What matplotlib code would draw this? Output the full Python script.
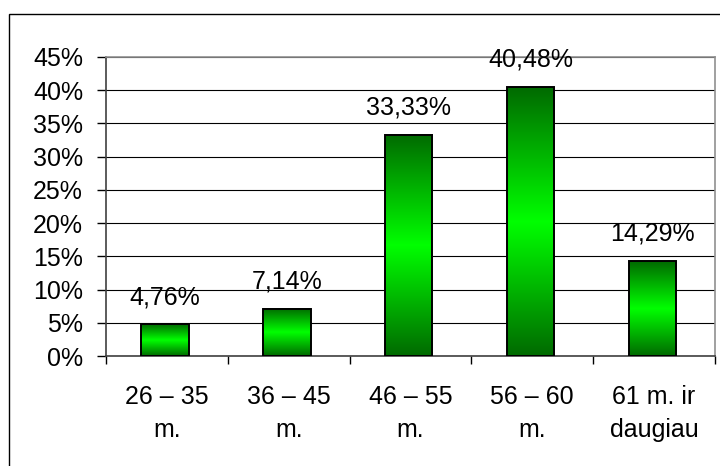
import numpy as np
import matplotlib
matplotlib.use("Agg")
import matplotlib.pyplot as plt
from matplotlib.colors import LinearSegmentedColormap
from matplotlib.patches import Rectangle

plt.rcParams['font.family'] = ['Liberation Sans', 'DejaVu Sans']

# duomenys
categories = ["26 – 35\nm.", "36 – 45\nm.", "46 – 55\nm.", "56 – 60\nm.", "61 m. ir\ndaugiau"]
values = [4.76, 7.14, 33.33, 40.48, 14.29]
yticks = [0, 5, 10, 15, 20, 25, 30, 35, 40, 45]

W, H = 720, 466
fig = plt.figure(figsize=(W / 100, H / 100), dpi=100)
ax = fig.add_axes([106 / W, (H - 356) / H, (715 - 106) / W, (356 - 57) / H])

# isorinis remelis
fig.patches.append(Rectangle((9 / W, -0.2), 1.0, (H - 14) / H + 0.2,
                             transform=fig.transFigure, fill=False,
                             edgecolor='black', linewidth=1.0))

# gradientas: tamsus - sviesus - tamsus
cmap = LinearSegmentedColormap.from_list(
    "g", [(0.0, "#006a00"), (0.5, "#00ff00"), (1.0, "#006a00")])
grad = np.linspace(0, 1, 256).reshape(-1, 1)

x = np.arange(len(values))
xb = x - 0.015
bw = 0.39
bars = ax.bar(xb, values, width=bw, facecolor='none', edgecolor='black',
              linewidth=1.4, zorder=4)
for b in bars:
    x0 = b.get_x()
    ax.imshow(grad, cmap=cmap, aspect='auto', zorder=3,
              extent=[x0, x0 + b.get_width(), 0, b.get_height()],
              interpolation='bilinear')

for xi, v in zip(xb, values):
    ax.annotate(f"{v:.2f}".replace('.', ',') + "%", (xi, v),
                xytext=(0, 14.5), textcoords='offset points',
                ha='center', va='baseline', fontsize=18, zorder=5)

ax.set_xlim(-0.5, len(values) - 0.5)
ax.set_ylim(0, 45)

ax.set_yticks(yticks)
ax.set_yticklabels([f"{t}%" for t in yticks])
ax.yaxis.grid(True, color='black', linewidth=0.8)
ax.set_axisbelow(True)

ax.set_xticks(np.arange(-0.5, len(values), 1.0))
ax.set_xticklabels([])
ax.set_xticks(x, minor=True)
ax.set_xticklabels(categories, minor=True, linespacing=1.45)

ax.tick_params(axis='y', labelsize=18, width=1, length=6.5, pad=10,
               direction='out', color='black')
ax.tick_params(axis='x', which='major', width=1, length=6, direction='out',
               color='black')
ax.tick_params(axis='x', which='minor', length=0, labelsize=18, pad=21)

for s in ['top', 'right']:
    ax.spines[s].set_color('#909090')
    ax.spines[s].set_linewidth(1.2)
for s in ['left', 'bottom']:
    ax.spines[s].set_color('#404040')
    ax.spines[s].set_linewidth(1.2)

fig.savefig("out.png", dpi=100)
